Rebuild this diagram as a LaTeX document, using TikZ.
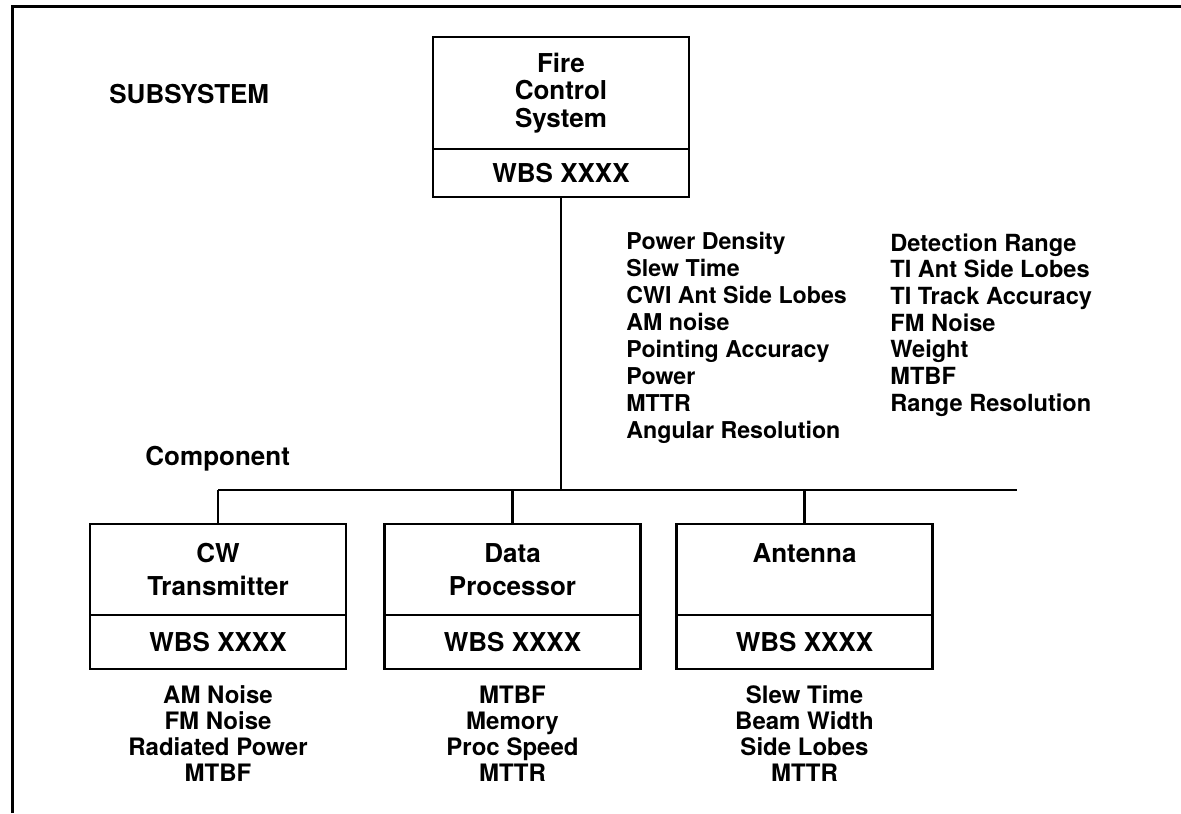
\documentclass[tikz,border=0pt]{standalone}
\usepackage{fontspec}
\setmainfont{TeX Gyre Heros}
\begin{document}
\begin{tikzpicture}[x=0.5pt,y=-0.5pt,
  font=\bfseries\fontsize{13}{14}\selectfont,
  namebox/.style={draw, line width=1.3pt, fill=white, minimum width=128pt, align=center, inner sep=0pt},
  link/.style={line width=1.1pt},
  frameline/.style={line width=1.5pt},
  listtext/.style={align=center, inner sep=0pt},
  toptext/.style={font=\bfseries\fontsize{13}{13.75}\selectfont},
  comptext/.style={font=\bfseries\fontsize{13}{16.5}\selectfont},
  listfont/.style={font=\bfseries\fontsize{12}{13}\selectfont}]
\useasboundingbox (0,0) rectangle (1181,813);
% frame (top and left edges)
\coordinate (fBL) at (12,813);
\coordinate (fTL) at (12,7);
\coordinate (fTR) at (1181,7);
\draw[frameline] (fBL) -- (fTL) -- (fTR);

% level labels
\node[anchor=west, inner sep=0pt] (subsys) at (109,94) {SUBSYSTEM};
\node[anchor=west, inner sep=0pt] (complab) at (145,459) {Component};

% top box
\node[namebox, toptext, minimum height=56pt] (fcs) at (561,93) {Fire\\Control\\System};
\node[namebox, minimum height=24pt] (fcsw) at (561,173) {WBS XXXX};

% component boxes
\node[namebox, comptext, minimum height=45.5pt] (cw) at (218,569.5) {CW\\Transmitter};
\node[namebox, minimum height=27pt] (cww) at (218,642) {WBS XXXX};
\node[namebox, comptext, minimum height=45.5pt] (dp) at (512.5,569.5) {Data\\Processor};
\node[namebox, minimum height=27pt] (dpw) at (512.5,642) {WBS XXXX};
\node[namebox, comptext, minimum height=45.5pt] (ant) at (804.5,569.5) {Antenna\\\mbox{}};
\node[namebox, minimum height=27pt] (antw) at (804.5,642) {WBS XXXX};

% bus
\coordinate (busY) at (0,490);
\coordinate (busL) at (cw.north |- busY);
\coordinate (busR) at (1017,490);
\draw[link] (busL) -- (busR);
\draw[link] (fcsw.south) -- (fcsw.south |- busY);
\draw[link] (cw.north) -- (busL);
\draw[link] (dp.north) -- (dp.north |- busY);
\draw[link] (ant.north) -- (ant.north |- busY);

% system requirement lists
\node[anchor=west, inner sep=0pt, align=left, font=\bfseries\fontsize{11.6}{13.5}\selectfont] (reqA) at (626,337.5)
  {Power Density\\Slew Time\\CWI Ant Side Lobes\\AM noise\\Pointing Accuracy\\Power\\MTTR\\Angular Resolution};
\node[anchor=west, inner sep=0pt, align=left, font=\bfseries\fontsize{11.8}{13.35}\selectfont] (reqB) at (890,325)
  {Detection Range\\TI Ant Side Lobes\\TI Track Accuracy\\FM Noise\\Weight\\MTBF\\Range Resolution};

% component requirement lists
\node[listtext, listfont] (cwl) at (218,734) {AM Noise\\FM Noise\\Radiated Power\\MTBF};
\node[listtext, listfont] (dpl) at (512.5,734) {MTBF\\Memory\\Proc Speed\\MTTR};
\node[listtext, listfont] (antl) at (804.5,734) {Slew Time\\Beam Width\\Side Lobes\\MTTR};
\end{tikzpicture}
\end{document}
